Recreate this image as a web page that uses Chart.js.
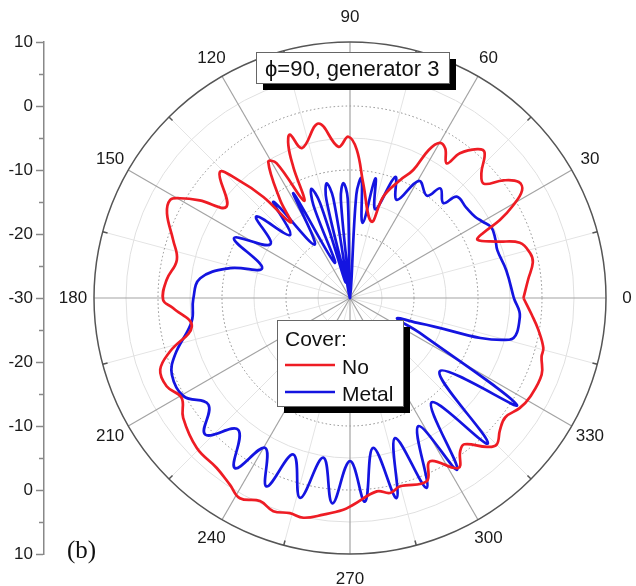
<!DOCTYPE html>
<html><head><meta charset="utf-8">
<script src="https://cdn.jsdelivr.net/npm/chart.js@4/dist/chart.umd.min.js"></script>
<style>html,body{margin:0;padding:0;background:#fff;}canvas{display:block;}</style>
</head><body>
<canvas id="c" width="636" height="586"></canvas>
<script>
// ---- data (angle in degrees, level in dB) ----
const CENTER_DB = -30;
const OUTER_DB = 10;
const angleTickLabels = [0, 30, 60, 90, 120, 150, 180, 210, 240, 270, 300, 330];
const ringLevels = [-25, -20, -15, -10, -5, 0, 5];
const dottedLevels = [-20, -10, 0];
const chartTitle = 'ϕ=90, generator 3';
const legendTitle = 'Cover:';
const panelLabel = '(b)';
const seriesNames = ['No', 'Metal'];

const noAngles = [0, 6, 11, 14, 18, 21, 24.5, 26, 27.5, 29.5, 32, 34.5, 37.5, 40.5, 43.5, 47.3, 49.5, 52.8, 54.3, 57.5, 60, 62, 63.7, 67, 71.8, 74.3, 83.4, 87.4, 90.6, 94.4, 100.2, 107.7, 110.2, 112, 113.4, 115.3, 118.6, 121, 125.5, 128.1, 130.6, 133.5, 136, 143.5, 147, 149.6, 151.4, 155.2, 161.8, 167.6, 174.4, 180.6, 183.2, 190.1, 196.5, 200.7, 205.7, 210.7, 215.7, 224.4, 231.9, 237.3, 241.2, 246.1, 250.2, 254.4, 258, 263, 268.2, 270.9, 277.9, 281.6, 284.9, 292.7, 296.1, 302.5, 305.7, 308, 312.6, 315, 318.7, 322.5, 327, 331.3, 338.2, 343, 345.5, 350.4, 354.8, 360];
const noDb = [-2.9, -2.0, -0.9, -1.0, -2.1, -5.4, -8.1, -6.9, -3.6, -0.8, 1.7, 2.0, 0.2, -2.5, -1.7, 1.0, 0.6, -1.6, -4.1, -2.3, -2.0, -3.8, -7.7, -10, -13.3, -17.6, -12, -6.8, -4.8, -6.3, -2.3, -5.4, -2.8, -4.3, -7.7, -13.2, -6.0, -5.2, -11.2, -15.0, -9.2, -4.5, -1.7, -6.0, -2.0, 0.8, 2.0, 1.5, -0.9, -2.3, -1.2, -0.8, -2.3, -4.9, -0.7, 1.7, 1.8, 0.6, 2.1, 3.5, 3.75, 4.7, 5.7, 4.7, 5.4, 4.9, 5.1, 4.1, 3.1, 2.3, 0.5, 1.1, 0.45, 1.05, -1.6, 1.5, -0.5, -1.0, 1.6, 2.4, 1.2, 0.6, 1.6, 2.1, 2.25, 1.3, 1.2, -0.15, -1.5, -2.9];

const metalAngles = [0, 10, 18, 22, 26.5, 30, 33, 38, 43.5, 45.5, 50.5, 53, 59.5, 64.5, 69.5, 74, 78, 80.5, 84.5, 86.5, 89, 91.3, 93.3, 95.3, 97, 99.5, 101.5, 103.5, 105, 107.5, 109.5, 111.5, 113.5, 118.4, 123.5, 128.5, 133.5, 139, 146, 152.7, 161.2, 166, 172.5, 180.5, 188.4, 198, 203.3, 210.5, 217, 223.3, 229.7, 235.9, 240.5, 246.1, 250.1, 256, 260.5, 265.1, 270, 274.2, 278.8, 283.1, 287.8, 292, 298, 302, 308, 313.5, 320.8, 327.3, 333.4, 336.5, 340, 345.3, 353.7, 360];
const metalDb = [-4.4, -5.2, -5.8, -5.5, -5.3, -6.1, -6.7, -7.0, -7.0, -9.2, -7.8, -10.0, -8.75, -13.0, -9.8, -15.6, -10.9, -18.1, -11.2, -13.8, -30, -14.5, -12.0, -14.5, -30, -14.2, -11.7, -14.2, -27.5, -14.4, -11.9, -14.4, -24, -11.4, -20, -10.8, -16.4, -10.6, -15.0, -9.6, -15.5, -10.7, -6.4, -5.5, -5.0, -1.25, 0.3, 0.2, -2.3, 1.1, -3.0, 2.1, -3.1, 2.2, -4.0, 2.2, -4.7, 2.2, -4.5, 1.9, -6.3, 2.1, -7.0, 2.0, -7.3, 1.6, -9.3, 1.3, -11.9, 1.0, -17.8, -22, -18.4, -4.3, -3.3, -4.4];

// polar (angle, dB) -> cartesian values for the library's linear scales
function toPoints(angles, db) {
  return angles.map((a, i) => {
    const r = Math.max(0, db[i] - CENTER_DB);
    const t = a * Math.PI / 180;
    return { x: r * Math.cos(t), y: r * Math.sin(t) };
  });
}
const RMAX = OUTER_DB - CENTER_DB;

const polarGrid = {
  id: 'polarGrid',
  beforeDatasetsDraw(chart) {
    const ctx = chart.ctx, xs = chart.scales.x, ys = chart.scales.y;
    const cx = xs.getPixelForValue(0), cy = ys.getPixelForValue(0);
    const pr = v => cy - ys.getPixelForValue(v - CENTER_DB);
    const R = pr(OUTER_DB);
    ctx.save();
    for (let a = 15; a < 360; a += 30) {
      const t = a * Math.PI / 180;
      ctx.strokeStyle = '#e4e4e4'; ctx.lineWidth = 1;
      ctx.beginPath(); ctx.moveTo(cx, cy); ctx.lineTo(cx + R * Math.cos(t), cy - R * Math.sin(t)); ctx.stroke();
    }
    ringLevels.forEach(lv => {
      const dotted = dottedLevels.includes(lv);
      ctx.beginPath();
      ctx.arc(cx, cy, pr(lv), 0, Math.PI * 2);
      if (dotted) { ctx.setLineDash([1.5, 2.5]); ctx.strokeStyle = '#8a8a8a'; }
      else { ctx.setLineDash([]); ctx.strokeStyle = '#e0e0e0'; }
      ctx.lineWidth = 1; ctx.stroke();
    });
    ctx.setLineDash([]);
    angleTickLabels.forEach(a => {
      const t = a * Math.PI / 180;
      ctx.strokeStyle = '#a3a3a3'; ctx.lineWidth = 1.2;
      ctx.beginPath(); ctx.moveTo(cx, cy); ctx.lineTo(cx + R * Math.cos(t), cy - R * Math.sin(t)); ctx.stroke();
    });
    ctx.strokeStyle = '#555'; ctx.lineWidth = 1.5;
    ctx.beginPath(); ctx.arc(cx, cy, R, 0, Math.PI * 2); ctx.stroke();
    for (let a = 15; a < 360; a += 30) {
      const t = a * Math.PI / 180;
      ctx.beginPath();
      ctx.moveTo(cx + R * Math.cos(t), cy - R * Math.sin(t));
      ctx.lineTo(cx + (R - 5) * Math.cos(t), cy - (R - 5) * Math.sin(t));
      ctx.stroke();
    }
    ctx.restore();
  },
  afterDraw(chart) {
    const ctx = chart.ctx, xs = chart.scales.x, ys = chart.scales.y;
    const cx = xs.getPixelForValue(0), cy = ys.getPixelForValue(0);
    const R = cy - ys.getPixelForValue(RMAX);
    ctx.save();
    ctx.font = '17px "Liberation Sans", Arial, sans-serif';
    ctx.fillStyle = '#1a1a1a';
    ctx.textAlign = 'center'; ctx.textBaseline = 'middle';
    angleTickLabels.forEach(a => {
      const t = a * Math.PI / 180;
      const off = (a === 90 || a === 270) ? 25 : 21;
      ctx.fillText(String(a), cx + (R + off) * Math.cos(t), cy - (R + off) * Math.sin(t));
    });
    const box = (x, y, w, h) => {
      ctx.fillStyle = '#000'; ctx.fillRect(x + 7, y + 7, w, h);
      ctx.fillStyle = '#fff'; ctx.fillRect(x, y, w, h);
      ctx.strokeStyle = '#666'; ctx.lineWidth = 1; ctx.strokeRect(x + 0.5, y + 0.5, w, h);
    };
    box(256, 52, 193, 31);
    ctx.fillStyle = '#111';
    ctx.font = '22px "Liberation Sans", Arial, sans-serif';
    ctx.textAlign = 'left'; ctx.textBaseline = 'alphabetic';
    ctx.fillText(chartTitle, 265, 76);
    box(277, 320, 126, 86);
    ctx.font = '21px "Liberation Sans", Arial, sans-serif';
    ctx.fillStyle = '#111';
    ctx.fillText(legendTitle, 285, 346);
    chart.data.datasets.forEach((ds, i) => {
      const y = 365 + i * 27;
      ctx.strokeStyle = ds.borderColor; ctx.lineWidth = 2.5;
      ctx.beginPath(); ctx.moveTo(285, y); ctx.lineTo(335, y); ctx.stroke();
      ctx.fillStyle = '#111';
      ctx.fillText(ds.label, 342, y + 9);
    });
    ctx.font = '25px "Liberation Serif", "Times New Roman", serif';
    ctx.fillText(panelLabel, 67, 558);
    ctx.restore();
  }
};

const minorTicks = {
  id: 'minorTicks',
  afterDraw(chart) {
    const ys = chart.scales.y, ctx = chart.ctx;
    ctx.save(); ctx.strokeStyle = '#888'; ctx.lineWidth = 1.5;
    for (let v = -35; v <= 35; v += 10) {
      const y = Math.round(ys.getPixelForValue(v)) + 0.5;
      ctx.beginPath(); ctx.moveTo(ys.right - 5, y); ctx.lineTo(ys.right, y); ctx.stroke();
    }
    ctx.restore();
  }
};

new Chart(document.getElementById('c'), {
  type: 'scatter',
  data: {
    datasets: [
      { label: seriesNames[0], data: toPoints(noAngles, noDb), showLine: true, borderColor: '#ee1c24', borderWidth: 2.7, pointRadius: 0, tension: 0.4, fill: false },
      { label: seriesNames[1], data: toPoints(metalAngles, metalDb), showLine: true, borderColor: '#1414e0', borderWidth: 2.7, pointRadius: 0, tension: 0.4, fill: false }
    ]
  },
  options: {
    responsive: false, animation: false, devicePixelRatio: 1,
    layout: { padding: { top: 42, bottom: 32, left: 0, right: 0 } },
    plugins: { legend: { display: false }, tooltip: { enabled: false } },
    scales: {
      x: { type: 'linear', min: -47.8125, max: 44.6875, display: false },
      y: {
        type: 'linear', min: -RMAX, max: RMAX, position: 'left',
        afterFit(s) { s.width = 44; },
        ticks: { stepSize: 10, callback: v => String(Math.abs(v) + CENTER_DB), color: '#1a1a1a', padding: 3,
                 font: { family: '"Liberation Sans", Arial, sans-serif', size: 17 } },
        grid: { drawOnChartArea: false, tickLength: 8, tickColor: '#888', tickWidth: 1.5 },
        border: { color: '#888', width: 1.5 }
      }
    }
  },
  plugins: [polarGrid, minorTicks]
});
</script>
</body></html>
